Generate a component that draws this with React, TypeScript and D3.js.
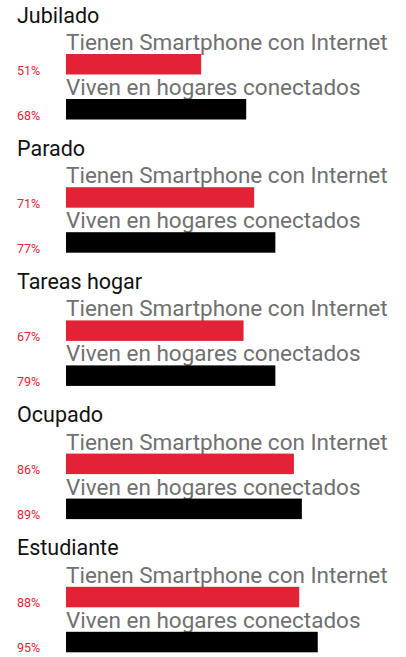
import { useEffect, useRef } from 'react';
import * as d3 from 'd3';

const categories = ['Jubilado', 'Parado', 'Tareas hogar', 'Ocupado', 'Estudiante'];
const seriesLabels = ['Tienen Smartphone con Internet', 'Viven en hogares conectados'];
const smartphone = [51, 71, 67, 86, 88];
const hogares = [68, 79, 79, 89, 95];
// etiquetas tal como aparecen escritas
const smartphoneLabels = ['51%', '71%', '67%', '86%', '88%'];
const hogaresLabels = ['68%', '77%', '79%', '89%', '95%'];

const RED = '#e32235';

const App = () => {
    const svgRef = useRef<SVGSVGElement>(null);

    useEffect(() => {
        if (!svgRef.current) return;
        const width = 406;
        const height = 657;
        const svg = d3.select(svgRef.current).attr('width', width).attr('height', height);
        svg.selectAll('*').remove();

        const font = 'Roboto, sans-serif';

        // x: 0..100% de ancho de barra
        const x = d3.scaleLinear().domain([0, 100]).range([66, 331]);
        // y: una banda por categoría (top de la barra roja)
        const y = d3.scaleBand<string>()
            .domain(categories)
            .range([54, 54 + 133.2 * categories.length]);

        const barH = 20.5;
        const gap = 45;

        const groups = svg.selectAll('g.grp')
            .data(categories.map((c, i) => ({
                c,
                vals: [smartphone[i], hogares[i]],
                labels: [smartphoneLabels[i], hogaresLabels[i]],
            })))
            .enter()
            .append('g')
            .attr('class', 'grp')
            .attr('transform', d => `translate(0,${y(d.c)})`);

        groups.append('text')
            .attr('x', 17)
            .attr('y', -31.5)
            .attr('font-family', font)
            .attr('font-size', 21.5)
            .attr('fill', '#111')
            .text(d => d.c);

        [0, 1].forEach(k => {
            const off = k * gap;
            groups.append('text')
                .attr('x', 66)
                .attr('y', off - 4)
                .attr('font-family', font)
                .attr('font-size', 22.5)
                .attr('fill', '#707070')
                .text(seriesLabels[k]);

            groups.append('rect')
                .attr('x', x(0))
                .attr('y', off)
                .attr('width', d => x(d.vals[k]) - x(0))
                .attr('height', barH)
                .attr('fill', k === 0 ? RED : '#000');

            groups.append('text')
                .attr('x', 17)
                .attr('y', off + barH)
                .attr('font-family', font)
                .attr('font-size', 12.5)
                .attr('fill', RED)
                .text(d => d.labels[k]);
        });
    }, []);

    return (
        <div style={{ position: 'absolute', top: 0, left: 0, background: '#fff' }}>
            <svg ref={svgRef} style={{ display: 'block' }}></svg>
        </div>
    );
};

export default App;
